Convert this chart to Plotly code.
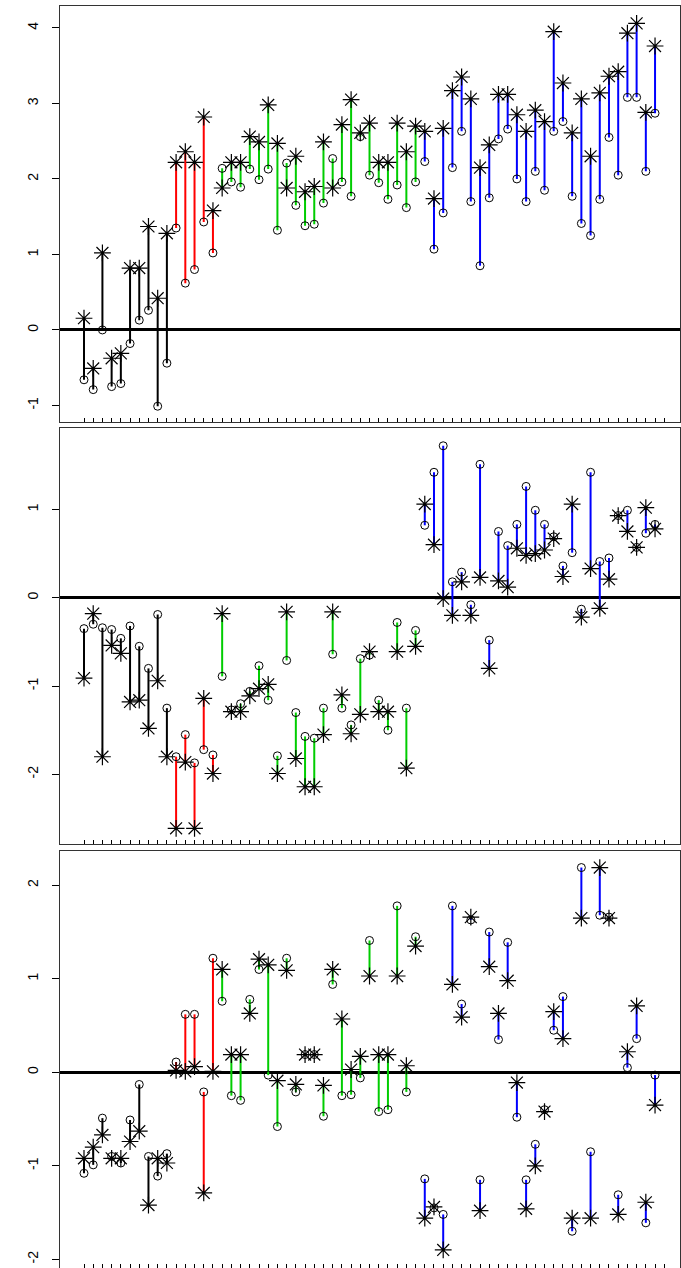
import plotly.graph_objects as go

# ---------------- data ----------------
idx = list(range(1, 64))
group_sizes = [10, 5, 22, 26]          # black, red, green, blue
group_colors = ["#000000", "#FF0000", "#00CD00", "#0000FF"]

circ1 = [-0.66, -0.79, 0.00, -0.75, -0.71, -0.18, 0.13, 0.26, -1.01, -0.44,
         1.35, 0.62, 0.80, 1.43, 1.02,
         2.14, 1.96, 1.89, 2.13, 1.99, 2.13, 1.32, 2.21, 1.65, 1.38, 1.40, 1.68, 2.27, 1.96, 1.77, 2.56, 2.05, 1.95, 1.73, 1.92, 1.62, 1.96,
         2.23, 1.07, 1.55, 2.15, 2.63, 1.70, 0.85, 1.75, 2.53, 2.66, 2.00, 1.70, 2.10, 1.85, 2.63, 2.76, 1.77, 1.41, 1.25, 1.73, 2.55, 2.05, 3.08, 3.08, 2.10, 2.87]
ast1 = [0.155, -0.51, 1.02, -0.375, -0.31, 0.82, 0.82, 1.37, 0.42, 1.28,
        2.22, 2.36, 2.22, 2.82, 1.58,
        1.88, 2.22, 2.22, 2.56, 2.49, 2.98, 2.47, 1.88, 2.30, 1.83, 1.90, 2.49, 1.88, 2.72, 3.05, 2.61, 2.74, 2.22, 2.22, 2.74, 2.36, 2.70,
        2.63, 1.74, 2.67, 3.17, 3.35, 3.06, 2.15, 2.45, 3.12, 3.12, 2.85, 2.63, 2.91, 2.76, 3.95, 3.27, 2.61, 3.06, 2.30, 3.14, 3.36, 3.42, 3.93, 4.06, 2.88, 3.76]

circ2 = [-0.35, -0.30, -0.34, -0.36, -0.46, -0.32, -0.55, -0.80, -0.19, -1.25,
         -1.80, -1.55, -1.87, -1.72, -1.78,
         -0.89, -1.27, -1.20, -1.06, -0.77, -1.16, -1.79, -0.71, -1.30, -1.57, -1.59, -1.25, -0.64, -1.25, -1.44, -0.69, -0.65, -1.16, -1.50, -0.28, -1.25, -0.37,
         0.82, 1.42, 1.72, 0.18, 0.29, -0.08, 1.51, -0.48, 0.75, 0.59, 0.83, 1.26, 0.99, 0.83, 0.69, 0.36, 0.51, -0.13, 1.42, 0.41, 0.45, 0.93, 0.99, 0.57, 0.73, 0.83]
ast2 = [-0.91, -0.18, -1.80, -0.54, -0.63, -1.18, -1.16, -1.48, -0.94, -1.80,
        -2.61, -1.86, -2.61, -1.14, -1.99,
        -0.18, -1.29, -1.29, -1.11, -1.03, -0.98, -1.99, -0.16, -1.82, -2.14, -2.14, -1.55, -0.16, -1.10, -1.54, -1.32, -0.61, -1.29, -1.29, -0.61, -1.93, -0.55,
        1.06, 0.60, -0.01, -0.20, 0.18, -0.20, 0.23, -0.80, 0.19, 0.12, 0.56, 0.48, 0.50, 0.54, 0.67, 0.24, 1.06, -0.22, 0.33, -0.12, 0.21, 0.93, 0.75, 0.57, 1.02, 0.78]

circ3 = [-1.08, -0.99, -0.49, -0.90, -0.97, -0.51, -0.13, -0.90, -1.11, -0.87,
         0.11, 0.62, 0.62, -0.21, 1.22,
         0.76, -0.25, -0.30, 0.78, 1.10, -0.03, -0.58, 1.22, -0.21, 0.19, 0.19, -0.47, 0.94, -0.25, -0.24, -0.06, 1.41, -0.42, -0.40, 1.78, -0.21, 1.45,
         -1.14, -1.45, -1.52, 1.78, 0.73, 1.63, -1.15, 1.50, 0.35, 1.39, -0.48, -1.15, -0.77, -0.40, 0.45, 0.81, -1.70, 2.19, -0.85, 1.68, 1.66, -1.31, 0.05, 0.36, -1.61, -0.03]
ast3 = [-0.92, -0.80, -0.67, -0.92, -0.92, -0.74, -0.63, -1.42, -0.92, -0.97,
        0.02, 0.01, 0.06, -1.29, 0.01,
        1.10, 0.19, 0.19, 0.63, 1.21, 1.15, -0.09, 1.09, -0.13, 0.19, 0.19, -0.14, 1.10, 0.57, 0.03, 0.17, 1.03, 0.19, 0.19, 1.03, 0.07, 1.35,
        -1.56, -1.44, -1.90, 0.94, 0.59, 1.66, -1.48, 1.13, 0.63, 0.98, -0.11, -1.46, -1.00, -0.42, 0.65, 0.36, -1.56, 1.65, -1.56, 2.19, 1.65, -1.52, 0.22, 0.71, -1.39, -0.35]

x_ticks = list(range(1, 65))
ytick_vals = [[-1, 0, 1, 2, 3, 4], [-2, -1, 0, 1], [-2, -1, 0, 1, 2]]
ytick_text = [["-1", "0", "1", "2", "3", "4"], ["-2", "-1", "0", "1"], ["-2", "-1", "0", "1", "2"]]

# ---------------- figure ----------------
panels = [(circ1, ast1), (circ2, ast2), (circ3, ast3)]
H = 1268.0
panel_px = [(6, 421.7), (428.3, 844), (851, 1268)]
y_ranges = [[-1.215, 4.29], [-2.788, 1.918], [-2.093, 2.367]]
x_range = [-1.606, 65.71]

fig = go.Figure()

for p, (circ, ast) in enumerate(panels):
    xa = "x" if p == 0 else f"x{p+1}"
    ya = "y" if p == 0 else f"y{p+1}"
    start = 0
    for size, col in zip(group_sizes, group_colors):
        xs, ys = [], []
        for i in range(start, start + size):
            xs += [idx[i], idx[i], None]
            ys += [circ[i], ast[i], None]
        start += size
        fig.add_trace(go.Scatter(x=xs, y=ys, mode="lines", xaxis=xa, yaxis=ya,
                                 line=dict(color=col, width=2), hoverinfo="skip"))
    fig.add_trace(go.Scatter(x=idx, y=circ, mode="markers", xaxis=xa, yaxis=ya,
                             marker=dict(symbol="circle-open", size=8, color="black",
                                         line=dict(width=1, color="black"))))
    fig.add_trace(go.Scatter(x=idx, y=ast, mode="markers", xaxis=xa, yaxis=ya,
                             marker=dict(symbol="asterisk-open", size=14, color="black",
                                         line=dict(width=1.2, color="black"))))

for p in range(3):
    top, bot = panel_px[p]
    dom = [max(0.0, 1 - bot / H), 1 - top / H]
    xkey = "xaxis" if p == 0 else f"xaxis{p+1}"
    ykey = "yaxis" if p == 0 else f"yaxis{p+1}"
    ya = "y" if p == 0 else f"y{p+1}"
    xa = "x" if p == 0 else f"x{p+1}"
    fig.layout[xkey] = dict(domain=[0, 1], anchor=ya, range=x_range, automargin=False,
                            tickvals=x_ticks, showticklabels=False, ticks="inside",
                            ticklen=4, tickcolor="black", showgrid=False, zeroline=False,
                            showline=True, mirror=True, linecolor="#333333", linewidth=1)
    fig.layout[ykey] = dict(domain=dom, anchor=xa, range=y_ranges[p], automargin=False,
                            tickvals=ytick_vals[p], ticktext=ytick_text[p],
                            tickangle=-90, ticks="outside", ticklen=7, tickcolor="black",
                            ticklabelstandoff=8,
                            tickfont=dict(family="Liberation Sans, Arial", size=14, color="black"),
                            showgrid=False, zeroline=True, zerolinewidth=3, zerolinecolor="black",
                            showline=True, mirror=True, linecolor="#333333", linewidth=1)

fig.update_layout(width=681, height=1268, margin=dict(l=60, r=1, t=0, b=0),
                  plot_bgcolor="white", paper_bgcolor="white", showlegend=False)

fig.write_html("out.html", config={"displayModeBar": False},
               post_script="document.body.style.margin='0';document.body.style.overflow='hidden';")
